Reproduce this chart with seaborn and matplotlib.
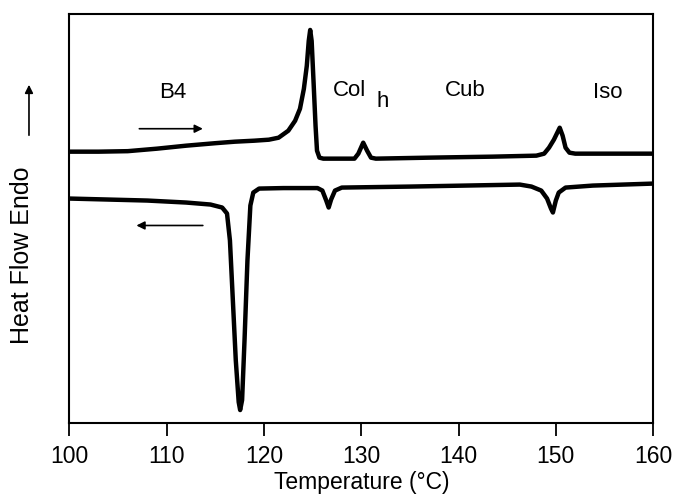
import numpy as np
import pandas as pd
import seaborn as sns
import matplotlib.pyplot as plt

# heating scan (temperature in C, heat flow in arbitrary units, endo up)
heat_T = [100, 103, 106, 109, 112, 115, 117, 119, 120.5, 121.5, 122.5, 123.2,
          123.7, 124.1, 124.4, 124.6, 124.75, 124.9, 125.1, 125.3, 125.45, 125.7,
          126.1, 129.3, 129.7, 130.2, 130.6, 131.0, 131.5, 137, 143.5, 148,
          148.8, 149.3, 149.8, 150.4, 150.7, 151.0, 151.4, 152, 160]
heat_hf = [272, 272, 272.5, 275, 278, 280.5, 282, 283, 284, 286, 293, 303,
           315, 335, 358, 383, 394, 383, 341, 298, 273, 266,
           265, 265, 270, 281, 273, 266, 265, 266, 267, 268,
           270, 276, 284, 296, 288, 276, 271, 270, 270]

# cooling scan
cool_T = [100, 104, 108, 112, 114.5, 115.7, 116.2, 116.5, 116.8, 117.1, 117.4,
          117.55, 117.75, 118.0, 118.3, 118.6, 118.9, 119.5, 122, 125.5, 126.0,
          126.4, 126.65, 126.9, 127.3, 128, 135, 146.3, 147.5, 148.5, 149.1,
          149.5, 149.7, 150.0, 150.3, 151, 153.8, 160]
cool_hf = [225, 224, 223, 221, 219, 216, 210, 183, 123, 63, 21,
           13, 23, 83, 163, 218, 231, 235, 235.5, 235.5, 233,
           223, 216, 224, 233, 236, 237, 239, 237, 233, 225,
           215, 211, 223, 231, 236, 238, 240]

phase_labels = ["B4", "Col", "Cub", "Iso"]
phase_T = [110.6, 128.8, 140.7, 155.3]
phase_hf = [331, 333, 333, 331]

heat = pd.DataFrame({"T": heat_T, "hf": heat_hf})
cool = pd.DataFrame({"T": cool_T, "hf": cool_hf})

sns.set_style("ticks")
plt.rcParams["font.family"] = ["Liberation Sans", "DejaVu Sans"]
plt.rcParams["text.color"] = "black"
plt.rcParams["axes.labelcolor"] = "black"
plt.rcParams["xtick.color"] = "black"

fig, ax = plt.subplots(figsize=(6.74, 5), dpi=100)
fig.subplots_adjust(left=0.103, right=0.969, top=0.972, bottom=0.154)

sns.lineplot(data=heat, x="T", y="hf", sort=False, color="black", lw=3.2, ax=ax)
sns.lineplot(data=cool, x="T", y="hf", sort=False, color="black", lw=3.2, ax=ax)

for lab, t, h in zip(phase_labels, phase_T, phase_hf):
    ax.text(t, h, lab, ha="center", va="center", fontsize=16)
ax.text(132.2, 322, "h", ha="center", va="center", fontsize=16)

# scan direction arrows
ax.annotate("", xy=(114.0, 295), xytext=(106.9, 295),
            arrowprops=dict(arrowstyle="-|>", color="black", lw=1.2, mutation_scale=12))
ax.annotate("", xy=(106.6, 198), xytext=(114.0, 198),
            arrowprops=dict(arrowstyle="-|>", color="black", lw=1.2, mutation_scale=12))

ax.set_xlim(100, 160)
ax.set_ylim(0, 410)
ax.set_xticks([100, 110, 120, 130, 140, 150, 160])
ax.set_yticks([])
ax.set_ylabel("")
ax.tick_params(axis="x", direction="out", length=9, width=1.3, labelsize=16.5, pad=7)
for sp in ax.spines.values():
    sp.set_linewidth(1.5)
    sp.set_color("black")

ax.set_xlabel("Temperature (°C)", fontsize=16.5, labelpad=2)

# y label with its arrow, placed in figure coordinates
fig.text(0.033, 0.49, "Heat Flow Endo", rotation=90, ha="center", va="center",
         fontsize=18)
ax.annotate("", xy=(0.043, 0.836), xytext=(0.043, 0.724), xycoords="figure fraction",
            textcoords="figure fraction",
            arrowprops=dict(arrowstyle="-|>", color="black", lw=1.2, mutation_scale=12))

fig.savefig("out.png", dpi=100)
